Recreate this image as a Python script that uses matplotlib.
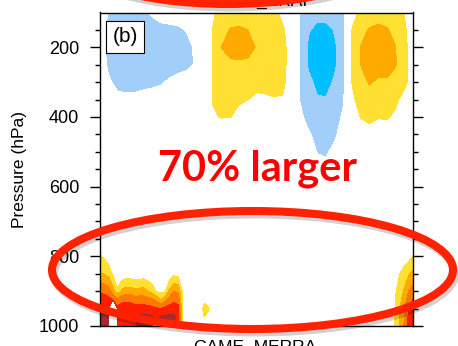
import numpy as np
import matplotlib.pyplot as plt
import matplotlib.patheffects as pe
from matplotlib.patches import Ellipse

plt.rcParams['font.family'] = ['Liberation Sans', 'DejaVu Sans']

# free-atmosphere difference field, lat every 5 deg
lat = np.arange(-90, 91, 5)
lev_upper = [100, 150, 200, 250, 300, 350, 400, 450, 500, 550, 600, 700]
diff_upper = [
    [-0.2, -1.1, -1.5, -1.5, -1.5, -1.3, -0.8, -0.3, -0.1, 0, 0, 0, 0, 0.8, 1.6, 1.6, 1.6, 1.6, 1.6,
     1.6, 1.4, 0.6, 0, -1.0, -1.6, -1.5, -1.5, -1.6, -1.2, 0.5, 1.3, 1.6, 1.7, 1.7, 1.5, 0.95, 0.2],
    [-0.3, -1.4, -1.6, -1.6, -1.6, -1.6, -1.6, -1.5, -1.45, -1.3, -0.9, -0.3, 0.3, 1.05, 1.7, 2.05, 2.1, 2.0, 1.7,
     1.6, 1.6, 1.2, 0.3, -1.1, -1.9, -2.4, -2.4, -1.9, -1.3, 1.05, 1.8, 2.05, 2.15, 2.05, 1.8, 1.2, 0.3],
    [-0.3, -1.4, -1.6, -1.6, -1.6, -1.6, -1.6, -1.6, -1.6, -1.6, -1.4, -0.8, 0.3, 1.05, 2.02, 2.7, 2.8, 2.5, 1.9,
     1.6, 1.6, 1.4, 0.4, -1.1, -2.2, -2.8, -2.8, -2.2, -1.3, 1.05, 2.02, 2.7, 2.8, 2.7, 2.02, 1.3, 0.4],
    [-0.2, -1.3, -1.6, -1.6, -1.6, -1.6, -1.6, -1.6, -1.6, -1.6, -1.4, -0.85, 0.3, 1.05, 1.6, 1.6, 1.7, 1.7, 1.6,
     1.6, 1.6, 1.4, 0.4, -1.1, -2.2, -2.8, -2.8, -2.2, -1.3, 1.05, 2.02, 2.6, 2.6, 2.6, 2.05, 1.3, 0.4],
    [0, -0.8, -1.4, -1.5, -1.5, -1.4, -1.3, -1.15, -0.8, -0.4, -0.2, -0.1, 0.3, 1.05, 1.5, 1.5, 1.5, 1.5, 1.6,
     1.6, 1.5, 1.3, 0.3, -1.1, -1.7, -2.3, -2.5, -1.8, -1.2, 1.05, 1.6, 2.1, 1.8, 1.8, 1.7, 1.3, 0.4],
    [0, -0.3, -0.6, -0.7, -0.65, -0.5, -0.4, -0.3, -0.2, 0, 0, 0, 0.2, 1.05, 1.4, 1.4, 1.2, 1.02, 0.6,
     0.7, 0.9, 0.9, 0.2, -1.05, -1.6, -1.9, -1.9, -1.6, -1.1, 0.8, 1.4, 1.5, 1.4, 1.4, 1.2, 0.6, 0],
    [0, 0, 0, 0, 0, 0, 0, 0, 0, 0, 0, 0, 0, 0.9, 1.05, 1.02, 0.5, 0.3, 0.2,
     0.2, 0.2, 0.2, 0, -0.7, -1.5, -1.7, -1.7, -1.5, -0.8, 0.3, 1.05, 1.3, 1.05, 1.1, 0.8, 0.2, 0],
    [0, 0, 0, 0, 0, 0, 0, 0, 0, 0, 0, 0, 0, 0.2, 0.2, 0.2, 0, 0, 0,
     0, 0, 0, 0, -0.3, -0.85, -1.4, -1.4, -1.2, -0.4, 0, 0.4, 0.5, 0.4, 0.5, 0.3, 0, 0],
    [0, 0, 0, 0, 0, 0, 0, 0, 0, 0, 0, 0, 0, 0, 0, 0, 0, 0, 0,
     0, 0, 0, 0, 0, -0.5, -1.05, -1.15, -0.7, -0.2, 0, 0, 0, 0, 0, 0, 0, 0],
    [0, 0, 0, 0, 0, 0, 0, 0, 0, 0, 0, 0, 0, 0, 0, 0, 0, 0, 0,
     0, 0, 0, 0, 0, 0, -0.6, -0.7, -0.3, 0, 0, 0, 0, 0, 0, 0, 0, 0],
    [0.0] * 37,
    [0.0] * 37,
]

# near-surface layer, lat every 2.5 deg (nan = below ground)
lev_sfc = [700, 800, 850, 900, 925, 950, 975, 1000]
lat_sfc_sh = np.arange(-90, -24.9, 2.5)
diff_sfc_sh = [
    [0.0] * 27,
    [1.08, 0.84, 0.4, 0, 0, 0, 0, 0, 0, 0, 0, 0, 0, 0, 0, 0, 0, 0, 0, 0, 0, 0, 0, 0, 0, 0, 0],
    [2.07, 1.95, 1.63, 0.8, 0, 0.32, 0.4, 0.4, 0.34, 0.36, 0.4, 0.28, 0.14, 0, 0, 0, 0.3, 0.72, 0.68, 0.3,
     0, 0, 0, 0, 0, 0, 0],
    [3.8, 3.71, 3.44, 2.41, 1.23, 2.17, 2.47, 2.47, 2.21, 2.33, 2.41, 2.02, 1.58, 0.9, 0.7, 0.9, 2.2, 2.98, 2.75,
     0.8, 0, 0, 0, 0, 0, 0, 0],
    [4.57, 4.5, 4.3, 3.98, 3.33, 3.75, 3.85, 3.77, 3.58, 3.54, 3.5, 3.36, 3.2, 2.77, 2.02, 2.77, 3.46, 3.71, 3.67,
     0.9, 0, 0, 0, 0, 0.7, 0.2, 0],
    [5.2, 5.16, 5.04, np.nan, 4.3, 4.4, 4.45, 4.45, 4.4, 4.48, 4.43, 4.35, 4.28, 4.1, 4.02, 4.28, 4.43, 4.54, 4.3,
     0.9, 0, 0, 0, 0.3, 1.5, 1.1, 0],
    [5.5, 5.66, 5.54, np.nan, 4.6, 4.6, 4.65, 4.65, 4.7, 5.2, 5.24, 5.24, 5.24, 4.6, 5.2, 5.24, 5.24, 5.24, 4.5,
     0.9, 0, 0, 0, 0.1, 0.95, 0.5, 0],
    [5.8, 6.0, 6.0, np.nan, 4.7, 4.7, 4.75, 4.75, 4.8, 5.4, 5.74, 5.74, 5.74, np.nan, 5.7, 5.74, 5.74, 5.74, 4.6,
     0.9, 0, 0, 0, 0, 0.5, 0.2, 0],
]
lat_sfc_nh = np.arange(75, 90.1, 2.5)
diff_sfc_nh = [
    [0, 0, 0, 0, 0, 0, 0],
    [0, 0, 0, 0, 0.3, 0.6, 1.02],
    [0, 0, 0.4, 1.02, 1.5, 1.9, 2.2],
    [0, 0.3, 0.9, 1.6, 2.1, 2.98, 3.5],
    [0, 0.4, 1.02, 1.8, 2.4, 3.5, 4.02],
    [0, 0.5, 1.05, 1.98, 3.02, 4.02, 4.5],
    [0, 0.5, 1.1, 2.02, 3.02, 4.2, 4.8],
    [0, 0.5, 1.1, 2.05, 3.1, 4.4, 4.9],
]

levels = [-10, -2, -1, 1, 2, 3, 4, 5, 10]
colors = ['#00bfff', '#a2cffa', 'white', '#ffe033', '#ffaa00', '#ff7800', '#ff1e00', '#a52a2a']

fig = plt.figure(figsize=(4.58, 3.46), dpi=100)
ax = fig.add_axes([100 / 458, 20 / 346, 313 / 458, 313.5 / 346])

ax.contourf(lat, lev_upper, diff_upper, levels=levels, colors=colors)
ax.contourf(lat_sfc_sh, lev_sfc, np.ma.masked_invalid(diff_sfc_sh), levels=levels, colors=colors)
ax.contourf(lat_sfc_nh, lev_sfc, diff_sfc_nh, levels=levels, colors=colors)

ax.set_xlim(-90, 90)
ax.set_ylim(1000, 100)
ax.set_xticks([])
ax.set_yticks([200, 400, 600, 800, 1000])
ax.set_yticks(np.arange(150, 1000, 50), minor=True)
ax.tick_params(axis='y', which='both', direction='out', right=True, width=1, labelsize=13)
ax.tick_params(axis='y', which='major', length=7, pad=8)
ax.tick_params(axis='y', which='minor', length=3.6)
for s in ax.spines.values():
    s.set_linewidth(1.0)

ax.text(0.08, 0.922, '(b)', transform=ax.transAxes, ha='center', va='center', fontsize=15,
        bbox=dict(boxstyle='square,pad=0.3', fc='white', ec='black', lw=0.8))
fig.text(20 / 458, 177 / 346, 'Pressure (hPa)', rotation=90, ha='center', va='center', fontsize=12.5)

# annotation layer in pixel units
ov = fig.add_axes([0, 0, 1, 1])
ov.set_xlim(0, 458)
ov.set_ylim(346, 0)
ov.axis('off')
ov.set_zorder(5)

ov.text(257, 6, 'GAME_ERAI', fontsize=12.5, ha='center', va='baseline', zorder=1)
ov.text(255, 352, 'GAME_MERRA', fontsize=12.5, ha='center', va='baseline', zorder=1)

shadow = [pe.SimpleLineShadow(offset=(1.5, -2.5), shadow_color='black', alpha=0.18), pe.Normal()]
ov.add_patch(Ellipse((228, -56), 350, 120, fill=False, ec='#ff2200', lw=5.8, path_effects=shadow, zorder=3))
ov.add_patch(Ellipse((252.5, 270), 401, 118, fill=False, ec='#ff2200', lw=5.8, path_effects=shadow, zorder=3))

ov.text(257, 180, '70% larger', color='red', fontsize=30, fontweight='bold', family='Lato',
        ha='center', va='baseline', zorder=4)

fig.savefig('out.png', dpi=100)
